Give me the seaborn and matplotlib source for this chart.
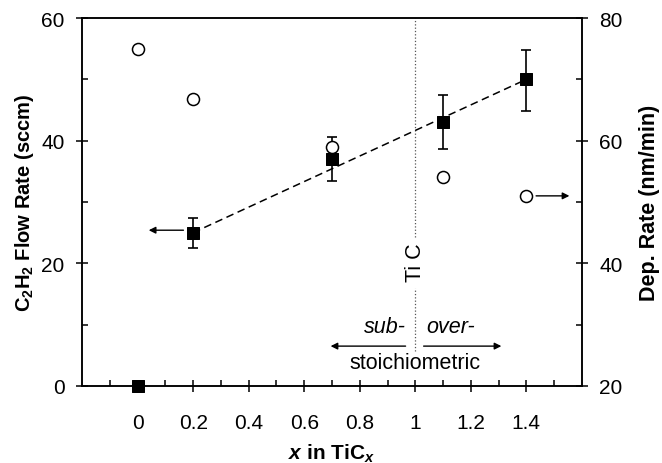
import matplotlib
matplotlib.use("Agg")
import matplotlib.pyplot as plt
import seaborn as sns
import pandas as pd
import numpy as np
from matplotlib.ticker import MultipleLocator, FixedLocator

# data
x_flow = [0.0, 0.2, 0.7, 1.1, 1.4]
flow = [0.0, 25.0, 37.0, 43.0, 50.0]
flow_lo = [0.0, 22.5, 33.4, 38.7, 44.9]
flow_hi = [0.0, 27.4, 40.6, 47.4, 54.8]

x_dep = [0.0, 0.2, 0.7, 1.1, 1.4]
dep = [75.0, 66.8, 59.0, 54.0, 51.0]

x_ticks = [0, 0.2, 0.4, 0.6, 0.8, 1, 1.2, 1.4]
x_tick_labels = ["0", "0.2", "0.4", "0.6", "0.8", "1", "1.2", "1.4"]

sns.set_style("ticks", {"axes.edgecolor": "black", "text.color": "black",
                        "xtick.color": "black", "ytick.color": "black",
                        "axes.labelcolor": "black"})
plt.rcParams["font.family"] = ["Liberation Sans", "DejaVu Sans"]
plt.rcParams["mathtext.fontset"] = "custom"
plt.rcParams["mathtext.rm"] = "Liberation Sans"
plt.rcParams["mathtext.bf"] = "Liberation Sans:bold"
plt.rcParams["mathtext.it"] = "Liberation Sans:italic"
plt.rcParams["mathtext.bfit"] = "Liberation Sans:bold:italic"

fig = plt.figure(figsize=(6.62, 4.64), dpi=100)
ax = fig.add_axes([0.124, 0.166, 0.755, 0.793])
ax2 = ax.twinx()

df_flow = pd.DataFrame({"x": x_flow, "flow": flow})
df_dep = pd.DataFrame({"x": x_dep, "dep": dep})

# error bars (skip the zero point)
yerr = [np.array(flow) - np.array(flow_lo), np.array(flow_hi) - np.array(flow)]
ax.errorbar(x_flow[1:], flow[1:], yerr=[yerr[0][1:], yerr[1][1:]], fmt="none",
            ecolor="black", elinewidth=1.2, capsize=3.5, capthick=1.2, zorder=3)

# dashed trend through the flow points
fit_df = pd.DataFrame({"x": [x_flow[1], x_flow[-1]], "flow": [flow[1], flow[-1]]})
sns.lineplot(data=fit_df, x="x", y="flow", ax=ax, color="black", linewidth=1.1,
             linestyle=(0, (5, 3)), zorder=2)

sns.scatterplot(data=df_flow, x="x", y="flow", ax=ax, marker="s", s=80,
                color="black", edgecolor="black", zorder=4, clip_on=False)
sns.scatterplot(data=df_dep, x="x", y="dep", ax=ax2, marker="o", s=75,
                facecolor="white", edgecolor="black", linewidth=1.1, zorder=4)

ax.set_xlim(-0.2, 1.6)
ax.set_ylim(0, 60)
ax2.set_ylim(20, 80)

ax.xaxis.set_major_locator(FixedLocator(x_ticks))
ax.set_xticklabels(x_tick_labels)
ax.xaxis.set_minor_locator(FixedLocator(np.arange(-0.1, 1.55, 0.2)))
ax.yaxis.set_major_locator(MultipleLocator(20))
ax.yaxis.set_minor_locator(MultipleLocator(10))
ax2.yaxis.set_major_locator(MultipleLocator(20))
ax2.yaxis.set_minor_locator(MultipleLocator(10))

for a in (ax, ax2):
    a.tick_params(which="major", direction="inout", length=9, width=1.1,
                  labelsize=15, color="black", labelcolor="black")
    a.tick_params(which="minor", direction="in", length=4, width=1.1)
    for s in a.spines.values():
        s.set_linewidth(1.1)
        s.set_visible(True)
        s.set_color("black")
ax.tick_params(axis="x", which="major", pad=15)
ax.tick_params(axis="y", which="major", pad=8)
ax2.tick_params(axis="y", which="major", pad=8)
ax.tick_params(top=False, right=False, which="both")
ax2.tick_params(top=False, which="both")

ax.set_xlabel(r"$\mathbfit{x}$ in TiC$_{\mathbfit{x}}$", fontsize=15,
              fontweight="bold", labelpad=7)
ax.set_ylabel(r"$\mathbf{C_2H_2}$ Flow Rate (sccm)", fontsize=14.5,
              fontweight="bold", labelpad=4)
ax2.set_ylabel("Dep. Rate (nm/min)", fontsize=15.5, fontweight="bold",
               labelpad=12)

# TiC stoichiometry marker
ax.plot([1, 1], [24.3, 60], color="#555555", linestyle=":", linewidth=0.9, zorder=1)
ax.plot([1, 1], [5.7, 16.0], color="#555555", linestyle=":", linewidth=0.9, zorder=1)
ax.text(1.0, 20.2, "Ti C", rotation=90, ha="center", va="center", fontsize=15.5)

arrow = dict(arrowstyle="-|>", color="black", lw=1.0, mutation_scale=10,
             shrinkA=0, shrinkB=0)
ax.annotate("", xy=(0.695, 6.5), xytext=(0.965, 6.5), arrowprops=arrow)
ax.annotate("", xy=(1.31, 6.5), xytext=(1.03, 6.5), arrowprops=arrow)
ax.text(0.965, 8.0, "sub-", ha="right", va="bottom", fontsize=15.5, style="italic")
ax.text(1.04, 8.0, "over-", ha="left", va="bottom", fontsize=15.5, style="italic")
ax.text(1.0, 3.8, "stoichiometric", ha="center", va="center", fontsize=15.5)

# axis pointers
ax.annotate("", xy=(0.04, 25.4), xytext=(0.165, 25.4), arrowprops=arrow)
ax.annotate("", xy=(1.555, 31.0), xytext=(1.435, 31.0), arrowprops=arrow)

fig.savefig("out.png", dpi=100)
